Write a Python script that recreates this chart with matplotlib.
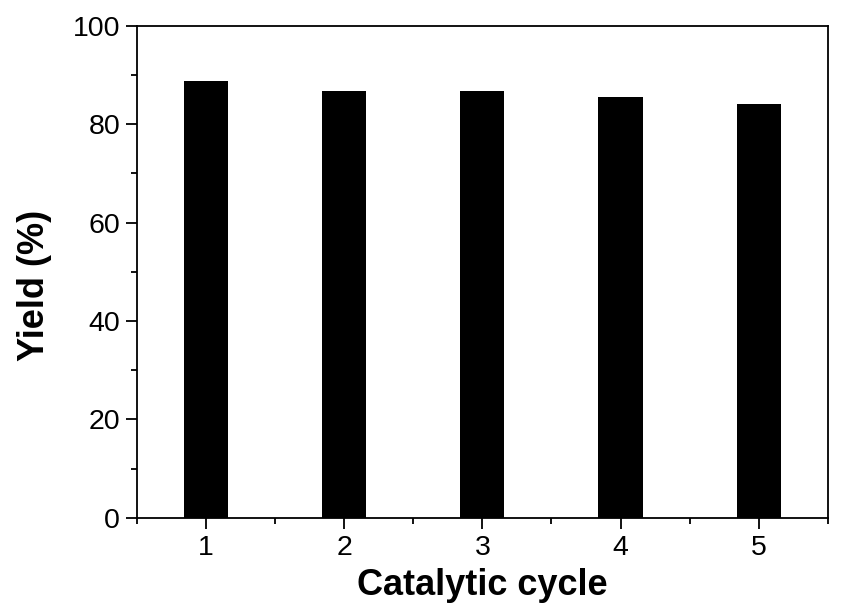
import matplotlib
matplotlib.use('Agg')
import matplotlib.pyplot as plt
from matplotlib.ticker import MultipleLocator

cycles = [1, 2, 3, 4, 5]
yields = [88.8, 86.8, 86.8, 85.5, 84.1]
tick_labels = ['1', '2', '3', '4', '5']

plt.rcParams['font.family'] = ['Liberation Sans', 'DejaVu Sans']

fig = plt.figure(figsize=(8.44, 6.10), dpi=100)
ax = fig.add_axes([0.162, 0.151, 0.819, 0.807])

ax.bar(cycles, yields, width=0.32, color='black')

ax.set_xlim(0.5, 5.5)
ax.set_ylim(0, 100)
ax.set_xticks(cycles)
ax.set_xticklabels(tick_labels)
ax.yaxis.set_major_locator(MultipleLocator(20))
ax.yaxis.set_minor_locator(MultipleLocator(10))
ax.xaxis.set_minor_locator(MultipleLocator(0.5))

ax.tick_params(which='major', direction='out', length=8, width=1.3, labelsize=20.5, pad=4)
ax.tick_params(which='minor', direction='out', length=4, width=1.3)
for s in ax.spines.values():
    s.set_linewidth(1.3)

ax.set_xlabel('Catalytic cycle', fontsize=26, fontweight='bold', labelpad=5)
ax.set_ylabel('Yield (%)', fontsize=26, fontweight='bold')
# label sits a bit below the axes centre in the original
ax.yaxis.set_label_coords(-0.123, 0.473)

plt.savefig('out.png', dpi=100)
plt.close()
